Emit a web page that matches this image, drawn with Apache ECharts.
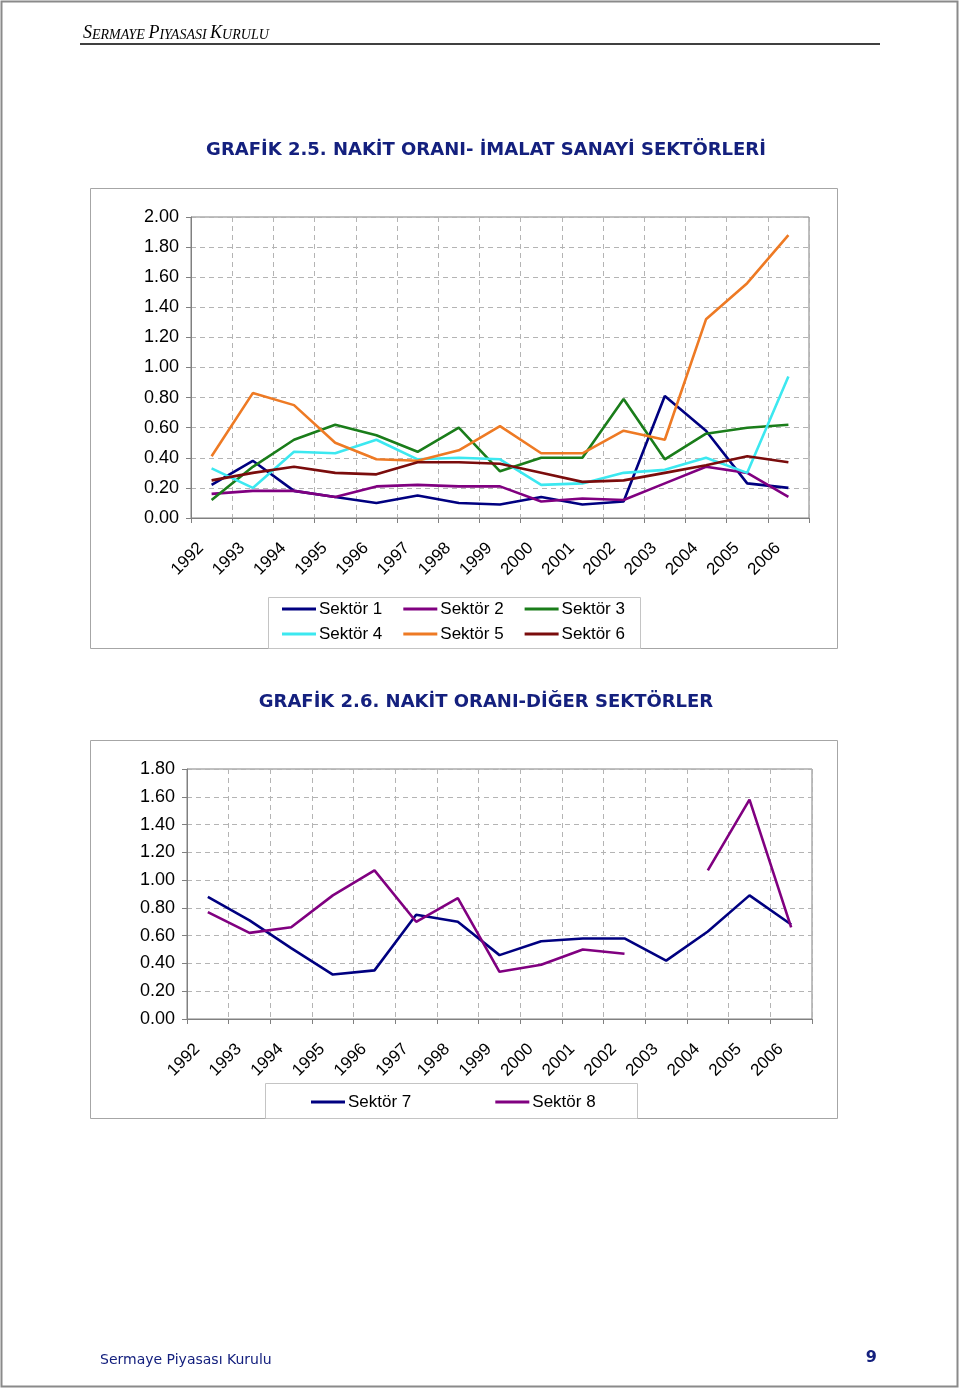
<!DOCTYPE html>
<html><head><meta charset="utf-8">
<script src="https://cdn.jsdelivr.net/npm/echarts@6/dist/echarts.min.js"></script>
<style>html,body{margin:0;padding:0;background:#fff}#c{width:960px;height:1389px}</style>
</head><body><div id="c"></div>
<script>
const years = ['1992','1993','1994','1995','1996','1997','1998','1999','2000','2001','2002','2003','2004','2005','2006'];
const yTicks1 = [0, 2, 0.2];
const yTicks2 = [0, 1.8, 0.2];
const names1 = ['Sektör 1','Sektör 2','Sektör 3','Sektör 4','Sektör 5','Sektör 6'];
const names2 = ['Sektör 7','Sektör 8'];
const s1 = [0.22,0.38,0.18,0.14,0.10,0.15,0.10,0.09,0.14,0.09,0.11,0.81,0.58,0.23,0.20];
const s2 = [0.16,0.18,0.18,0.14,0.21,0.22,0.21,0.21,0.11,0.13,0.12,0.23,0.34,0.30,0.14];
const s3 = [0.12,0.34,0.52,0.62,0.55,0.44,0.60,0.31,0.40,0.40,0.79,0.39,0.56,0.60,0.62];
const s4 = [0.33,0.20,0.44,0.43,0.52,0.39,0.40,0.39,0.22,0.23,0.30,0.32,0.40,0.30,0.94];
const s5 = [0.41,0.83,0.75,0.50,0.39,0.38,0.45,0.61,0.43,0.43,0.58,0.52,1.32,1.56,1.88];
const s6 = [0.25,0.30,0.34,0.30,0.29,0.37,0.37,0.36,0.30,0.24,0.25,0.30,0.35,0.41,0.37];
const s7 = [0.88,0.71,0.51,0.32,0.35,0.75,0.70,0.46,0.56,0.58,0.58,0.42,0.63,0.89,0.68];
const s8 = [0.77,0.62,0.66,0.89,1.07,0.70,0.87,0.34,0.39,0.50,0.47,null,1.07,1.58,0.66];
const colors1 = ['#000080','#800080','#1a7d1a','#3ce8f0','#ee7a24','#7a0c0c'];
const colors2 = ['#000080','#800080'];

const AX = '"Liberation Sans", Arial, sans-serif';
const TI = '"DejaVu Sans", Verdana, sans-serif';
const gridLine = {show:true, lineStyle:{type:[5,4], color:'#b4b4b4', width:1}};

function xAxis(gi){
  return {type:'category', gridIndex:gi, data:years, boundaryGap:true,
    axisLine:{lineStyle:{color:'#808080', width:1}},
    axisTick:{show:true, interval:0, length:5, lineStyle:{color:'#808080'}},
    axisLabel:{interval:0, rotate:45, margin:17, padding:[0,15,0,0], fontFamily:AX, fontSize:17, color:'#000'},
    splitLine:Object.assign({interval:0}, gridLine)};
}
function yAxis(gi, t){
  return {type:'value', gridIndex:gi, min:t[0], max:t[1], interval:t[2],
    axisLine:{show:true, lineStyle:{color:'#808080', width:1}},
    axisTick:{show:true, length:5, lineStyle:{color:'#808080'}},
    axisLabel:{margin:12, fontFamily:AX, fontSize:18, color:'#000', formatter:v=>v.toFixed(2)},
    splitLine:gridLine};
}
const data1 = [s1,s2,s3,s4,s5,s6];
const data2 = [s7,s8];
const series = [];
names1.forEach((n,i)=>series.push({name:n, type:'line', xAxisIndex:0, yAxisIndex:0, data:data1[i],
  symbol:'none', lineStyle:{width:2.6, color:colors1[i]}, itemStyle:{color:colors1[i]}, animation:false}));
names2.forEach((n,i)=>series.push({name:n, type:'line', xAxisIndex:1, yAxisIndex:1, data:data2[i],
  symbol:'none', connectNulls:false, lineStyle:{width:2.6, color:colors2[i]}, itemStyle:{color:colors2[i]}, animation:false}));

function legend(data, left, top, gap){
  return {data:data, left:left, top:top, orient:'horizontal', icon:'rect', itemWidth:34, itemHeight:3,
    itemGap:gap, padding:0, selectedMode:false,
    textStyle:{fontFamily:AX, fontSize:17, color:'#000', lineHeight:18, padding:[0,0,0,-2]}};
}

const chart = echarts.init(document.getElementById('c'), null, {renderer:'canvas'});
chart.setOption({
  animation:false,
  backgroundColor:'#fff',
  grid:[
    {left:191, top:217, width:618, height:301, show:true, borderColor:'#808080', borderWidth:1, backgroundColor:'transparent'},
    {left:187, top:769, width:625, height:250, show:true, borderColor:'#808080', borderWidth:1, backgroundColor:'transparent'}
  ],
  xAxis:[xAxis(0), xAxis(1)],
  yAxis:[yAxis(0, yTicks1), yAxis(1, yTicks2)],
  legend:[
    legend(names1.slice(0,3), 282, 600, 21),
    legend(names1.slice(3,6), 282, 625, 21),
    legend(names2, 311, 1093, 84)
  ],
  series:series,
  graphic:[
    {type:'rect', silent:true, z:-10, shape:{x:1.5, y:1.5, width:956, height:1385}, style:{fill:'none', stroke:'#8a8a8a', lineWidth:2}},
    {type:'text', silent:true, style:{x:83, y:33, text:'{a|S}{b|ERMAYE }{a|P}{b|IYASASI }{a|K}{b|URULU}', verticalAlign:'middle', align:'left',
      rich:{a:{fontFamily:'"Liberation Serif", serif', fontStyle:'italic', fontSize:18, fill:'#000', verticalAlign:'bottom'},
            b:{fontFamily:'"Liberation Serif", serif', fontStyle:'italic', fontSize:14, fill:'#000', verticalAlign:'bottom'}}}},
    {type:'line', silent:true, shape:{x1:80, y1:44, x2:880, y2:44}, style:{stroke:'#000', lineWidth:1.5}},
    {type:'text', silent:true, style:{x:486, y:150, text:'GRAFİK 2.5. NAKİT ORANI- İMALAT SANAYİ SEKTÖRLERİ', align:'center', verticalAlign:'middle',
      fontFamily:TI, fontWeight:'bold', fontSize:18, fill:'#14207e'}},
    {type:'rect', silent:true, z:-5, shape:{x:90.5, y:188.5, width:747, height:460}, style:{fill:'none', stroke:'#a6a6a6', lineWidth:1}},
    {type:'rect', silent:true, z:-5, shape:{x:268.5, y:597.5, width:372, height:51}, style:{fill:'none', stroke:'#c4c4c4', lineWidth:1}},
    {type:'text', silent:true, style:{x:486, y:702, text:'GRAFİK 2.6. NAKİT ORANI-DİĞER SEKTÖRLER', align:'center', verticalAlign:'middle',
      fontFamily:TI, fontWeight:'bold', fontSize:18, fill:'#14207e'}},
    {type:'rect', silent:true, z:-5, shape:{x:90.5, y:740.5, width:747, height:378}, style:{fill:'none', stroke:'#a6a6a6', lineWidth:1}},
    {type:'rect', silent:true, z:-5, shape:{x:265.5, y:1083.5, width:372, height:35}, style:{fill:'none', stroke:'#c4c4c4', lineWidth:1}},
    {type:'text', silent:true, style:{x:100, y:1360, text:'Sermaye Piyasası Kurulu', align:'left', verticalAlign:'middle',
      fontFamily:TI, fontSize:14, fill:'#14207e'}},
    {type:'text', silent:true, style:{x:877, y:1358, text:'9', align:'right', verticalAlign:'middle',
      fontFamily:TI, fontWeight:'bold', fontSize:16, fill:'#14207e'}}
  ]
});
</script></body></html>
